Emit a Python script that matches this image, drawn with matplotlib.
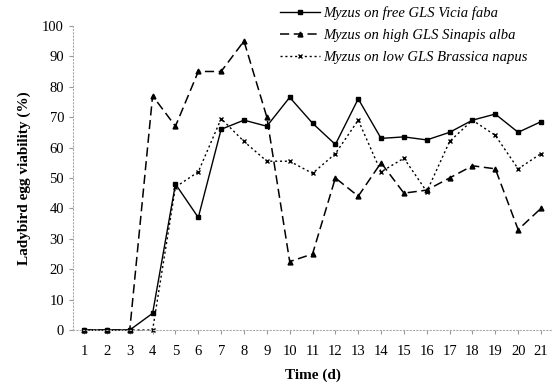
import numpy as np
import matplotlib
matplotlib.use("Agg")
import matplotlib.pyplot as plt

plt.rcParams['font.family'] = ['Liberation Serif', 'DejaVu Serif']

# Data
days = list(range(1, 22))
free_faba = [0, 0, 0, 5.5, 48, 37, 66, 69, 67, 76.5, 68, 61, 76, 63, 63.5, 62.5, 65, 69, 71, 65, 68.5]
high_alba = [0, 0, 0, 77, 67, 85, 85, 95, 70, 22.5, 25, 50, 44, 55, 45, 46, 50, 54, 53, 33, 40]
low_napus = [0, 0, 0, 0, 47, 52, 69.5, 62, 55.5, 55.5, 51.5, 58, 69, 52, 56.5, 45.5, 62, 69, 64, 53, 58]

fig = plt.figure(figsize=(5.58, 3.86), dpi=100)
ax = fig.add_axes([0.131, 0.145, 0.859, 0.788])

ax.plot(days, free_faba, color='black', lw=1.0, marker='s', ms=3,
        label='Myzus on free GLS Vicia faba', clip_on=False)
ax.plot(days, high_alba, color='black', lw=1.1, ls=(0, (6, 3)), marker='^', ms=3.5,
        label='Myzus on high GLS Sinapis alba', clip_on=False)
ax.plot(days, low_napus, color='black', lw=1.0, ls=(0, (1.5, 2)), marker='x', ms=3.5,
        mew=1.0, label='Myzus on low GLS Brassica napus', clip_on=False)

ax.set_xlim(0.52, 21.5)
ax.set_ylim(0, 100)
ax.set_xticks(days)
ax.set_yticks(np.arange(0, 101, 10))
ax.tick_params(axis='both', labelsize=10.5, length=3, color='#999999')
ax.tick_params(axis='x', pad=8)

for s in ['top', 'right']:
    ax.spines[s].set_visible(False)
for s in ['left', 'bottom']:
    ax.spines[s].set_color('#aaaaaa')
    ax.spines[s].set_linestyle((0, (1, 2)))
    ax.spines[s].set_linewidth(0.8)

ax.set_xlabel('Time (d)', fontsize=11, fontweight='bold', labelpad=7)
ax.set_ylabel('Ladybird egg viability (%)', fontsize=11, fontweight='bold', labelpad=8)

leg = ax.legend(loc='upper left', bbox_to_anchor=(0.42, 1.085), frameon=False,
                prop={'style': 'italic', 'size': 10.5}, handlelength=2.7,
                handletextpad=0.25, labelspacing=0.62, borderaxespad=0)

fig.savefig('out.png', dpi=100)
